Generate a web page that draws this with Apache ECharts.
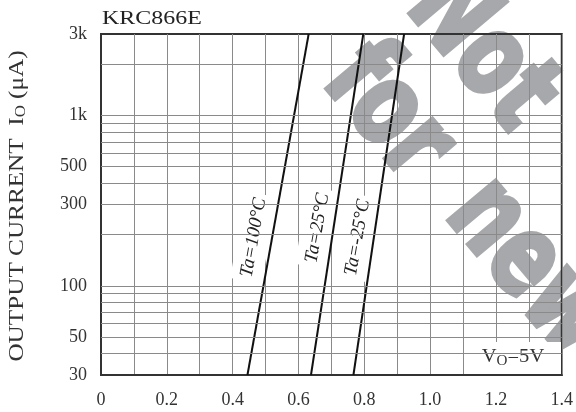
<!DOCTYPE html>
<html><head><meta charset="utf-8">
<script src="https://cdn.jsdelivr.net/npm/echarts@6/dist/echarts.min.js"></script>
<style>html,body{margin:0;padding:0;background:#fff}#c{width:576px;height:412px}</style>
</head><body><div id="c"></div>
<script>
const chartTitle = 'KRC866E';
const yAxisName = 'OUTPUT CURRENT  I';
const currentUA = [30, 3000];
const vin100 = [0.445, 0.631];
const vin25 = [0.638, 0.797];
const vinM25 = [0.767, 0.921];
const seriesLabels = ['Ta=100°C', 'Ta=25°C', 'Ta=-25°C'];
const yTickValues = [30, 50, 100, 300, 500, 1000, 3000];
const yGridValues = [40, 50, 60, 70, 80, 90, 100, 200, 300, 400, 500, 600, 700, 800, 900, 1000, 2000];
const xMin = 0, xMax = 1.4, xStep = 0.1;
const watermarkWords = ['Not', 'for', 'new design'];

const SERIF = 'Liberation Serif';
const chart = echarts.init(document.getElementById('c'), null, {renderer: 'canvas'});

function pairs(v) { return v.map((x, i) => [x, currentUA[i]]); }
const curves = [vin100, vin25, vinM25];

const wmStyle = {fill: '#a6a8ab', stroke: '#a6a8ab', lineWidth: 5, fontFamily: 'DejaVu Sans', fontWeight: 'bold', fontSize: 112};
const wmRot = -50 * Math.PI / 180;
const wmScale = 0.74;
const labRot = 80 * Math.PI / 180;

const option = {
  animation: false,
  backgroundColor: '#fff',
  grid: {left: 101, right: 13, top: 34, bottom: 37, show: true, borderColor: '#333', borderWidth: 2},
  xAxis: {
    type: 'value', min: xMin, max: xMax, interval: xStep,
    axisLine: {lineStyle: {color: '#333', width: 2}},
    axisTick: {show: false},
    splitLine: {show: true, lineStyle: {color: '#8a8a8a', width: 1}},
    axisLabel: {
      margin: 16, fontSize: 18, fontFamily: SERIF, color: '#333',
      formatter: v => { const k = Math.round(v * 10); if (k % 2) return ''; return k === 0 ? '0' : (k / 10).toFixed(1); }
    }
  },
  yAxis: {
    type: 'log', logBase: 10, min: 30, max: 3000,
    axisLine: {show: true, lineStyle: {color: '#333', width: 2}},
    axisTick: {show: false},
    minorTick: {show: false},
    splitLine: {show: false},
    axisLabel: {
      customValues: yTickValues,
      margin: 14, fontSize: 18, fontFamily: SERIF, color: '#333',
      formatter: v => v >= 1000 ? (v / 1000) + 'k' : String(v)
    }
  },
  graphic: [
    {type: 'text', x: 480, y: 52, rotation: wmRot, scaleX: wmScale, z: -10, style: Object.assign({text: watermarkWords[0], align: 'center', verticalAlign: 'middle'}, wmStyle)},
    {type: 'text', x: 386, y: 114, rotation: wmRot, scaleX: wmScale, z: -10, style: Object.assign({text: watermarkWords[1], align: 'center', verticalAlign: 'middle'}, wmStyle)},
    {type: 'text', x: 466, y: 196, rotation: wmRot, scaleX: wmScale, z: -10, style: Object.assign({text: watermarkWords[2], align: 'left', verticalAlign: 'middle'}, wmStyle)},
    {type: 'text', x: 102, y: 19, scaleX: 1.26, z: 5, style: {text: chartTitle, fontFamily: SERIF, fontSize: 19, fill: '#222', align: 'left', verticalAlign: 'middle'}},
    {type: 'text', x: 17, y: 206, rotation: Math.PI / 2, scaleX: 1.2, z: 5, style: {
      text: yAxisName + '{s|O} (μA)', fontFamily: SERIF, fontSize: 21, fill: '#333', align: 'center', verticalAlign: 'middle',
      rich: {s: {fontFamily: SERIF, fontSize: 14, fill: '#333', verticalAlign: 'bottom', padding: [8, 0, 0, 0]}}
    }},
    {type: 'text', x: 253.5, y: 237.5, rotation: labRot, z: 2, style: {text: seriesLabels[0], fontFamily: SERIF, fontStyle: 'italic', fontSize: 19, fill: '#222', align: 'center', verticalAlign: 'middle', backgroundColor: '#fff', padding: [3, 4, 10, 4]}},
    {type: 'text', x: 317.5, y: 228, rotation: labRot, z: 2, style: {text: seriesLabels[1], fontFamily: SERIF, fontStyle: 'italic', fontSize: 19, fill: '#222', align: 'center', verticalAlign: 'middle', backgroundColor: '#fff', padding: [3, 4, 10, 4]}},
    {type: 'text', x: 357.5, y: 237.5, rotation: labRot, z: 2, style: {text: seriesLabels[2], fontFamily: SERIF, fontStyle: 'italic', fontSize: 19, fill: '#222', align: 'center', verticalAlign: 'middle', backgroundColor: '#fff', padding: [3, 4, 10, 4]}},
    {type: 'rect', z: 2, shape: {x: 465, y: 342, width: 96, height: 32}, style: {fill: '#fff'}},
    {type: 'text', x: 513, y: 357, scaleX: 1.08, z: 5, style: {
      text: 'V{s|O}=5V', fontFamily: SERIF, fontSize: 19, fill: '#333', align: 'center', verticalAlign: 'middle',
      rich: {s: {fontFamily: SERIF, fontSize: 14, fill: '#333', verticalAlign: 'bottom', padding: [8, 0, 0, 0]}}
    }}
  ],
  series: [
    {
      type: 'line', data: [], z: 1, silent: true,
      markLine: {
        silent: true, symbol: ['none', 'none'], label: {show: false},
        lineStyle: {color: '#8a8a8a', width: 1, type: 'solid'},
        emphasis: {disabled: true},
        data: yGridValues.map(v => ({yAxis: v}))
      }
    }
  ].concat(curves.map((c, i) => ({
    type: 'line', name: seriesLabels[i], data: pairs(c), symbol: 'none', z: 3,
    lineStyle: {color: '#111', width: 2}
  })))
};
chart.setOption(option);
</script></body></html>
